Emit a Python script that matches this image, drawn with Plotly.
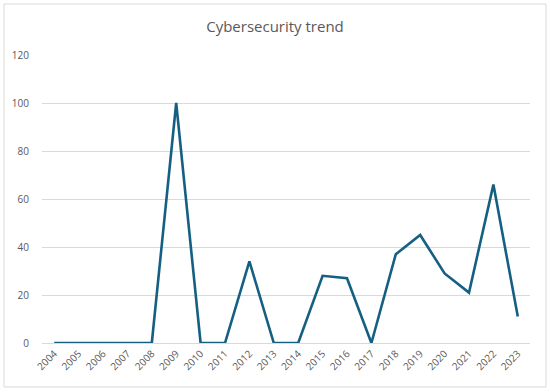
import plotly.graph_objects as go

years = [str(y) for y in range(2004, 2024)]
values = [0, 0, 0, 0, 0, 100, 0, 0, 34, 0, 0, 28, 27, 0, 37, 45, 29, 21, 66, 11]
y_ticks = [0, 20, 40, 60, 80, 100, 120]

fig = go.Figure()
fig.add_trace(go.Scatter(x=years, y=values, mode="lines",
                         line=dict(color="#156082", width=2.6)))

L, R, T, B = 42, 20, 55, 49
W, H = 550, 392
pw, ph = W - L - R, H - T - B

fig.update_layout(
    width=W, height=H,
    margin=dict(l=L, r=R, t=T, b=B, autoexpand=False),
    paper_bgcolor="white", plot_bgcolor="white",
    showlegend=False,
    title=dict(text="Cybersecurity trend", x=0.5, xanchor="center", y=1 - 27 / H, yanchor="middle",
               font=dict(family="Open Sans, Arial", size=15, color="#595959")),
    font=dict(family="Open Sans, Arial", color="#595959", size=10),
    xaxis=dict(type="category", range=[-0.5, len(years) - 0.5], tickangle=-45, showgrid=False,
               showline=True, linecolor="#d9d9d9", linewidth=1, ticks="", automargin=False,
               tickfont=dict(size=10, color="#595959")),
    yaxis=dict(range=[0, 120], tickvals=y_ticks, showgrid=True, gridcolor="#d9d9d9", gridwidth=1,
               zeroline=False, showline=False, ticks="", ticklabelstandoff=12, automargin=False,
               tickfont=dict(size=10, color="#595959")),
    shapes=[dict(type="rect", xref="paper", yref="paper",
                 x0=(4 - L) / pw, x1=(546 - L) / pw,
                 y0=(H - B - 387) / ph, y1=(H - B - 4) / ph,
                 line=dict(color="#d9d9d9", width=1), fillcolor="rgba(0,0,0,0)", layer="below")],
)

fig.write_html("out.html", config={"displayModeBar": False},
               post_script="document.body.style.margin='0';document.body.style.padding='0';")
